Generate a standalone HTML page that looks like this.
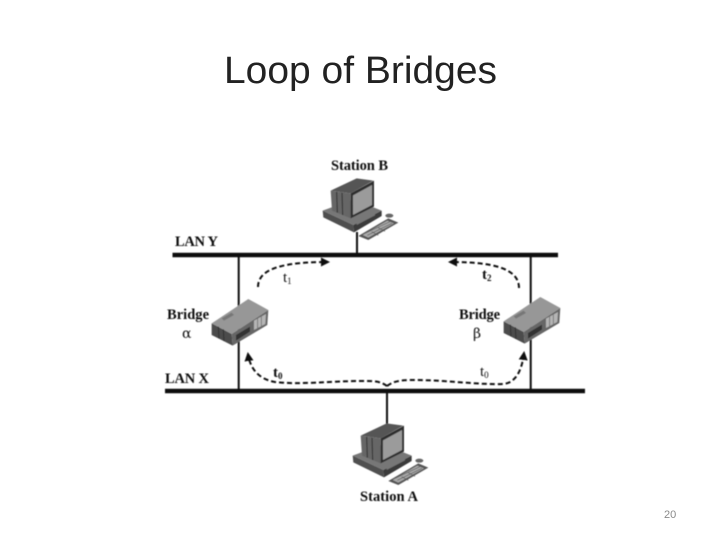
<!DOCTYPE html>
<html><head><meta charset="utf-8"><title>Loop of Bridges</title>
<style>html,body{margin:0;padding:0;background:#fff}svg{display:block}</style></head>
<body>
<svg xmlns="http://www.w3.org/2000/svg" width="720" height="540" viewBox="0 0 720 540">
<defs>
<filter id="b" x="-5%" y="-5%" width="110%" height="110%"><feGaussianBlur stdDeviation="0.45"/></filter>
<marker id="ar" markerWidth="10" markerHeight="10" refX="7" refY="4.500" orient="auto" markerUnits="userSpaceOnUse"><path d="M0 0L9 4.500L0 9Z" fill="#111"/></marker>
<g id="station">
<polygon points="38,182 130,148 215,182 130,225" fill="#777"/>
<polygon points="38,182 130,225 132,247 40,202" fill="#505050"/>
<polygon points="130,225 215,182 215,198 132,247" fill="#3a3a3a"/>
<polygon points="140,218 195,190 195,196 140,225" fill="#777"/>
<polygon points="62,122 140,85 190,92 122,130" fill="#555"/>
<polygon points="62,122 122,130 122,205 66,182" fill="#666"/>
<path d="M80 126L82 188M96 128L98 195" stroke="#2c2c2c" stroke-width="3"/>
<polygon points="122,130 192,92 192,170 122,205" fill="#2f2f2f"/>
<polygon points="129,136 186,105 186,165 129,195" fill="#9b9b9b"/>
<polygon points="145,258 235,205 265,218 175,270" fill="#555"/>
<polygon points="158,255 232,212 252,220 175,263" fill="#aaa"/>
<path d="M165 250L240 215M172 256L246 220M185 245L205 256M205 233L225 244" stroke="#555" stroke-width="2"/>
<ellipse cx="238" cy="197" rx="12" ry="6" fill="#666"/>
</g>
<g id="bridge">
<polygon points="155,280 265,207 325,240 215,312" fill="#979797"/>
<polygon points="155,280 215,312 218,347 155,315" fill="#4c4c4c"/>
<polygon points="215,312 325,240 322,285 218,347" fill="#666"/>
<path d="M175 290L177 325M190 298L192 333" stroke="#2e2e2e" stroke-width="3"/>
<polygon points="228,315 270,290 270,305 228,332" fill="#333"/>
<polygon points="282,272 318,252 316,282 282,300" fill="#b5b5b5"/>
<path d="M293 266V294M304 260V288" stroke="#555" stroke-width="2"/>
<polygon points="185,265 215,248 222,255 192,272" fill="#777"/>
</g>
</defs>

<text x="224" y="83" font-family="'Liberation Sans',sans-serif" font-size="38" fill="#222" textLength="273" lengthAdjust="spacingAndGlyphs">Loop of Bridges</text>

<g filter="url(#b)">
<g stroke="#111" fill="none">
<path d="M172.500 255H558" stroke-width="4.500"/>
<path d="M165 391H585" stroke-width="4.500"/>
<path d="M238.700 255V391M530.700 255V391" stroke-width="2"/>
<path d="M357 232V255M387 391V425" stroke-width="2"/>
</g>
<use href="#station" transform="translate(310,150) scale(.3333)"/>
<use href="#station" transform="translate(340,395) scale(.3333)"/>
<use href="#bridge" transform="translate(160,230) scale(.3333)"/>
<use href="#bridge" transform="translate(452,228) scale(.3333)"/>

<g fill="none" stroke="#111" stroke-width="2" stroke-dasharray="5 3">
<path d="M258 287C258 268 285 262 328 262" marker-end="url(#ar)"/>
<path d="M519 288C519 268 492 262 450 262" marker-end="url(#ar)"/>
<path d="M387 386C380 381 375 381 360 381C330 381 300 385 275 382C258 379 250 368 248 354" marker-end="url(#ar)"/>
<path d="M387 386C394 381 400 380 415 380C445 380 480 385 503 384C516 383 522 370 524 353" marker-end="url(#ar)"/>
</g>

<g font-family="'Liberation Serif',serif" font-size="14.500" font-weight="bold" fill="#111">
<text x="359.500" y="170" text-anchor="middle" textLength="57">Station B</text>
<text x="389" y="501" text-anchor="middle" textLength="58">Station A</text>
<text x="175" y="246" textLength="43">LAN Y</text>
<text x="165" y="383" textLength="44">LAN X</text>
<text x="167" y="319" textLength="42">Bridge</text>
<text x="459" y="319" textLength="41">Bridge</text>
<text x="482" y="279" font-size="15">t<tspan font-size="9" dy="2">2</tspan></text>
<text x="273" y="377" font-size="15">t<tspan font-size="9" dy="2">0</tspan></text>
</g>
<g font-family="'Liberation Serif',serif" font-size="15" fill="#111">
<text x="283" y="282">t<tspan font-size="9" dy="2">1</tspan></text>
<text x="480" y="376">t<tspan font-size="9" dy="2">0</tspan></text>
<text x="182" y="338" font-family="'DejaVu Serif',serif" font-size="14">α</text>
<text x="473" y="338" font-family="'DejaVu Serif',serif" font-size="14">β</text>
</g>
</g>

<text x="664" y="518" font-family="'Liberation Sans',sans-serif" font-size="11" fill="#8a8a8a">20</text>
</svg>
</body></html>
